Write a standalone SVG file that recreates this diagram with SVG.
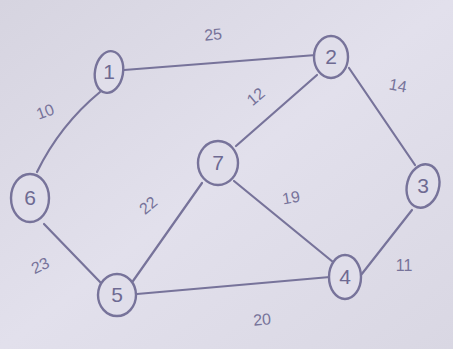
<svg xmlns="http://www.w3.org/2000/svg" width="453" height="349" viewBox="0 0 453 349">
<defs>
<linearGradient id="bg" x1="0" y1="0" x2="1" y2="1">
<stop offset="0" stop-color="#d6d4e0"/>
<stop offset="0.5" stop-color="#e2e0ec"/>
<stop offset="1" stop-color="#d9d7e3"/>
</linearGradient>
<style>
.e{fill:none;stroke:#77739a;stroke-width:2.2;stroke-linecap:round}
.n{fill:#e0deea;stroke:#77739a;stroke-width:2.4}
.t{font-family:"Liberation Sans",sans-serif;fill:#6e6a92;font-size:21px;text-anchor:middle}
.w{font-family:"Liberation Sans",sans-serif;fill:#77739a;font-size:16px;text-anchor:middle}
</style>
</defs>
<rect width="453" height="349" fill="url(#bg)"/>
<g id="connectors">
<path class="e" d="M124,70 L316,55"/>
<path class="e" d="M100,92 Q60,125 37,172"/>
<path class="e" d="M44,224 L101,283"/>
<path class="e" d="M133,281 L202,183"/>
<path class="e" d="M236,146 L317,75"/>
<path class="e" d="M234,181 L333,262"/>
<path class="e" d="M349,68 L415,165"/>
<path class="e" d="M412,210 L361,275"/>
<path class="e" d="M137,294 L330,277"/>
</g>
<g id="edge-labels">
<text class="w" x="213" y="40" transform="rotate(-5 213 34)">25</text>
<text class="w" x="45" y="117" transform="rotate(-20 45 111)">10</text>
<text class="w" x="256" y="102" transform="rotate(-40 256 97)">12</text>
<text class="w" x="398" y="91" transform="rotate(10 398 85)">14</text>
<text class="w" x="148" y="211" transform="rotate(-40 148 205)">22</text>
<text class="w" x="291" y="203" transform="rotate(-10 291 197)">19</text>
<text class="w" x="40" y="271" transform="rotate(-25 40 265)">23</text>
<text class="w" x="404" y="271">11</text>
<text class="w" x="262" y="325" transform="rotate(-5 262 319)">20</text>
</g>
<g id="node1"><ellipse class="n" cx="109" cy="72" rx="14" ry="21" transform="rotate(10 109 72)"/><text class="t" x="109" y="79">1</text></g>
<g id="node2"><ellipse class="n" cx="331" cy="57" rx="17" ry="21"/><text class="t" x="331" y="64">2</text></g>
<g id="node3"><ellipse class="n" cx="423" cy="186" rx="16" ry="22" transform="rotate(15 423 186)"/><text class="t" x="423" y="193">3</text></g>
<g id="node4"><ellipse class="n" cx="345" cy="277" rx="16" ry="22"/><text class="t" x="345" y="284">4</text></g>
<g id="node5"><ellipse class="n" cx="117" cy="295" rx="19" ry="21"/><text class="t" x="117" y="302">5</text></g>
<g id="node6"><ellipse class="n" cx="30" cy="198" rx="19" ry="24"/><text class="t" x="30" y="205">6</text></g>
<g id="node7"><ellipse class="n" cx="218" cy="163" rx="20" ry="22"/><text class="t" x="218" y="170">7</text></g>
</svg>
